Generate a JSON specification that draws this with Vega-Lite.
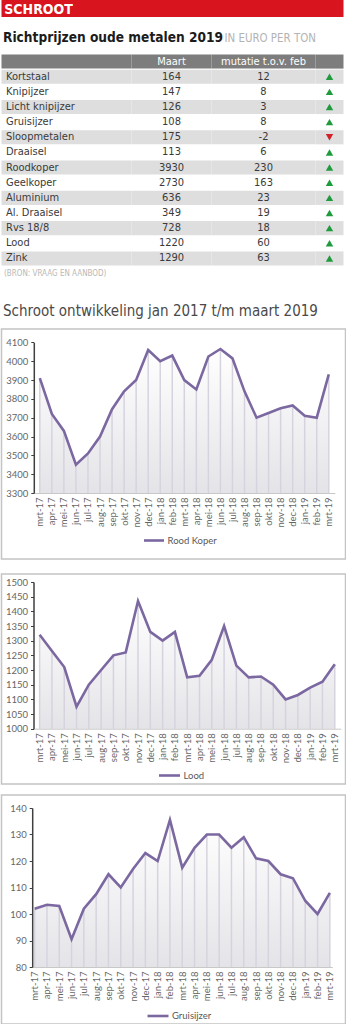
{
  "$schema": "https://vega.github.io/schema/vega-lite/v6.json",
  "padding": {"left": 0.5, "top": 0, "right": 0, "bottom": 0},
  "background": "white",
  "spacing": 0,
  "resolve": {"scale": {"color": "independent", "shape": "independent"}, "legend": {"color": "independent"}},
  "config": {
    "view": {"stroke": null},
    "concat": {"spacing": 0},
    "axis": {"labelFont": "Lato", "grid": false},
    "font": "DejaVu Sans Condensed"
  },
  "datasets": {
    "tabel": [
      {"nr": 0, "soort": " ", "maart": "Maart", "mutatie": "mutatie t.o.v. feb", "trend": ""},
      {"nr": 1, "soort": "Kortstaal", "maart": 164, "mutatie": 12, "trend": "up"},
      {"nr": 2, "soort": "Knipijzer", "maart": 147, "mutatie": 8, "trend": "up"},
      {"nr": 3, "soort": "Licht knipijzer", "maart": 126, "mutatie": 3, "trend": "up"},
      {"nr": 4, "soort": "Gruisijzer", "maart": 108, "mutatie": 8, "trend": "up"},
      {"nr": 5, "soort": "Sloopmetalen", "maart": 175, "mutatie": -2, "trend": "down"},
      {"nr": 6, "soort": "Draaisel", "maart": 113, "mutatie": 6, "trend": "up"},
      {"nr": 7, "soort": "Roodkoper", "maart": 3930, "mutatie": 230, "trend": "up"},
      {"nr": 8, "soort": "Geelkoper", "maart": 2730, "mutatie": 163, "trend": "up"},
      {"nr": 9, "soort": "Aluminium", "maart": 636, "mutatie": 23, "trend": "up"},
      {"nr": 10, "soort": "Al. Draaisel", "maart": 349, "mutatie": 19, "trend": "up"},
      {"nr": 11, "soort": "Rvs 18/8", "maart": 728, "mutatie": 18, "trend": "up"},
      {"nr": 12, "soort": "Lood", "maart": 1220, "mutatie": 60, "trend": "up"},
      {"nr": 13, "soort": "Zink", "maart": 1290, "mutatie": 63, "trend": "up"}
    ],
    "koper": [
      {"maand": "mrt-17", "waarde": 3910}, {"maand": "apr-17", "waarde": 3720}, {"maand": "mei-17", "waarde": 3630},
      {"maand": "jun-17", "waarde": 3450}, {"maand": "jul-17", "waarde": 3510}, {"maand": "aug-17", "waarde": 3600},
      {"maand": "sep-17", "waarde": 3745}, {"maand": "okt-17", "waarde": 3840}, {"maand": "nov-17", "waarde": 3900},
      {"maand": "dec-17", "waarde": 4060}, {"maand": "jan-18", "waarde": 4000}, {"maand": "feb-18", "waarde": 4030},
      {"maand": "mrt-18", "waarde": 3900}, {"maand": "apr-18", "waarde": 3850}, {"maand": "mei-18", "waarde": 4025},
      {"maand": "jun-18", "waarde": 4065}, {"maand": "jul-18", "waarde": 4015}, {"maand": "aug-18", "waarde": 3840},
      {"maand": "sep-18", "waarde": 3700}, {"maand": "okt-18", "waarde": 3725}, {"maand": "nov-18", "waarde": 3750},
      {"maand": "dec-18", "waarde": 3765}, {"maand": "jan-19", "waarde": 3710}, {"maand": "feb-19", "waarde": 3700},
      {"maand": "mrt-19", "waarde": 3930}
    ],
    "lood": [
      {"maand": "mrt-17", "waarde": 1320}, {"maand": "apr-17", "waarde": 1265}, {"maand": "mei-17", "waarde": 1210},
      {"maand": "jun-17", "waarde": 1075}, {"maand": "jul-17", "waarde": 1150}, {"maand": "aug-17", "waarde": 1200},
      {"maand": "sep-17", "waarde": 1250}, {"maand": "okt-17", "waarde": 1260}, {"maand": "nov-17", "waarde": 1435},
      {"maand": "dec-17", "waarde": 1330}, {"maand": "jan-18", "waarde": 1300}, {"maand": "feb-18", "waarde": 1330},
      {"maand": "mrt-18", "waarde": 1175}, {"maand": "apr-18", "waarde": 1180}, {"maand": "mei-18", "waarde": 1235},
      {"maand": "jun-18", "waarde": 1350}, {"maand": "jul-18", "waarde": 1215}, {"maand": "aug-18", "waarde": 1175},
      {"maand": "sep-18", "waarde": 1178}, {"maand": "okt-18", "waarde": 1150}, {"maand": "nov-18", "waarde": 1100},
      {"maand": "dec-18", "waarde": 1115}, {"maand": "jan-19", "waarde": 1140}, {"maand": "feb-19", "waarde": 1160},
      {"maand": "mrt-19", "waarde": 1220}
    ],
    "gruis": [
      {"maand": "mrt-17", "waarde": 102}, {"maand": "apr-17", "waarde": 103.5}, {"maand": "mei-17", "waarde": 103},
      {"maand": "jun-17", "waarde": 90.5}, {"maand": "jul-17", "waarde": 102}, {"maand": "aug-17", "waarde": 107.5},
      {"maand": "sep-17", "waarde": 115}, {"maand": "okt-17", "waarde": 110}, {"maand": "nov-17", "waarde": 117},
      {"maand": "dec-17", "waarde": 123}, {"maand": "jan-18", "waarde": 120}, {"maand": "feb-18", "waarde": 135.5},
      {"maand": "mrt-18", "waarde": 117.5}, {"maand": "apr-18", "waarde": 125}, {"maand": "mei-18", "waarde": 130},
      {"maand": "jun-18", "waarde": 130}, {"maand": "jul-18", "waarde": 125}, {"maand": "aug-18", "waarde": 129},
      {"maand": "sep-18", "waarde": 121}, {"maand": "okt-18", "waarde": 120}, {"maand": "nov-18", "waarde": 115},
      {"maand": "dec-18", "waarde": 113.5}, {"maand": "jan-19", "waarde": 105}, {"maand": "feb-19", "waarde": 100},
      {"maand": "mrt-19", "waarde": 108}
    ]
  },
  "vconcat": [
    {
      "width": 342, "height": 17,
      "data": {"values": [{"kop": "SCHROOT"}]},
      "mark": {"type": "rect", "color": "#d8141e"},
      "encoding": {
        "y": {"field": "kop", "type": "nominal", "scale": {"paddingInner": 0, "paddingOuter": 0},
          "axis": {"orient": "left", "offset": -2.3, "domain": false, "ticks": false, "tickSize": 0, "labelPadding": 0,
            "labelAlign": "left", "labelBaseline": "alphabetic", "labelOffset": 5.5,
            "labelFont": "DejaVu Sans Condensed", "labelFontWeight": "bold", "labelFontSize": 14,
            "labelColor": "#ffffff", "labelLimit": 0, "zindex": 1, "title": null}}
      }
    },
    {
      "hconcat": [
        {
          "width": 222, "height": 37,
          "data": {"values": [{"t": "Richtprijzen oude metalen 2019"}]},
          "mark": {"type": "rect", "opacity": 0},
          "encoding": {
            "y": {"field": "t", "type": "nominal", "scale": {"paddingInner": 0, "paddingOuter": 0},
              "axis": {"orient": "left", "offset": -1, "domain": false, "ticks": false, "tickSize": 0, "labelPadding": 0,
                "labelAlign": "left", "labelBaseline": "alphabetic", "labelOffset": 6.2,
                "labelFont": "DejaVu Sans Condensed", "labelFontWeight": "bold", "labelFontSize": 13.6,
                "labelColor": "#1b1b1b", "labelLimit": 0, "zindex": 1, "title": null}}
          }
        },
        {
          "width": 120, "height": 37,
          "data": {"values": [{"t": "IN EURO PER TON"}]},
          "mark": {"type": "rect", "opacity": 0},
          "encoding": {
            "y": {"field": "t", "type": "nominal", "scale": {"paddingInner": 0, "paddingOuter": 0},
              "axis": {"orient": "left", "offset": -0.5, "domain": false, "ticks": false, "tickSize": 0, "labelPadding": 0,
                "labelAlign": "left", "labelBaseline": "alphabetic", "labelOffset": 6.2,
                "labelFont": "DejaVu Sans Condensed", "labelFontSize": 11.4,
                "labelColor": "#b3b3b3", "labelLimit": 0, "zindex": 1, "title": null}}
          }
        }
      ],
      "spacing": 0
    },
    {
      "data": {"name": "tabel"},
      "hconcat": [
        {
          "width": 130, "height": 212,
          "mark": {"type": "rect"},
          "encoding": {
            "y": {"field": "soort", "type": "nominal",
              "scale": {"domain": [" ", "Kortstaal", "Knipijzer", "Licht knipijzer", "Gruisijzer", "Sloopmetalen", "Draaisel", "Roodkoper", "Geelkoper", "Aluminium", "Al. Draaisel", "Rvs 18/8", "Lood", "Zink"], "paddingInner": 0.07, "paddingOuter": 0.035},
              "axis": {"orient": "left", "offset": -4, "domain": false, "ticks": false, "tickSize": 0, "labelPadding": 0,
                "labelAlign": "left", "labelBaseline": "middle",
                "labelFont": "DejaVu Sans Condensed", "labelFontSize": 11,
                "labelColor": "#3a3a3a", "labelLimit": 0, "zindex": 1, "title": null}},
            "color": {"condition": [{"test": "datum.nr == 0", "value": "#7d7d7d"}, {"test": "datum.nr % 2 == 1", "value": "#dedede"}], "value": "#ffffff"}
          }
        },
        {
          "width": 80, "height": 212,
          "encoding": {
            "y": {"field": "soort", "type": "nominal",
              "scale": {"domain": [" ", "Kortstaal", "Knipijzer", "Licht knipijzer", "Gruisijzer", "Sloopmetalen", "Draaisel", "Roodkoper", "Geelkoper", "Aluminium", "Al. Draaisel", "Rvs 18/8", "Lood", "Zink"], "paddingInner": 0.07, "paddingOuter": 0.035},
              "axis": null}
          },
          "layer": [
            {"mark": {"type": "rect"},
             "encoding": {"color": {"condition": [{"test": "datum.nr == 0", "value": "#7d7d7d"}, {"test": "datum.nr % 2 == 1", "value": "#dedede"}], "value": "#ffffff"}}},
            {"mark": {"type": "text", "font": "DejaVu Sans Condensed", "fontSize": 11, "baseline": "middle"},
             "encoding": {"text": {"field": "maart", "type": "nominal"},
               "color": {"condition": {"test": "datum.nr == 0", "value": "#ffffff"}, "value": "#3a3a3a"}}}
          ]
        },
        {
          "width": 104, "height": 212,
          "encoding": {
            "y": {"field": "soort", "type": "nominal",
              "scale": {"domain": [" ", "Kortstaal", "Knipijzer", "Licht knipijzer", "Gruisijzer", "Sloopmetalen", "Draaisel", "Roodkoper", "Geelkoper", "Aluminium", "Al. Draaisel", "Rvs 18/8", "Lood", "Zink"], "paddingInner": 0.07, "paddingOuter": 0.035},
              "axis": null}
          },
          "layer": [
            {"mark": {"type": "rect"},
             "encoding": {"color": {"condition": [{"test": "datum.nr == 0", "value": "#7d7d7d"}, {"test": "datum.nr % 2 == 1", "value": "#dedede"}], "value": "#ffffff"}}},
            {"mark": {"type": "text", "font": "DejaVu Sans Condensed", "fontSize": 11, "baseline": "middle"},
             "encoding": {"text": {"field": "mutatie", "type": "nominal"},
               "color": {"condition": {"test": "datum.nr == 0", "value": "#ffffff"}, "value": "#3a3a3a"}}}
          ]
        },
        {
          "width": 28, "height": 212,
          "encoding": {
            "y": {"field": "soort", "type": "nominal",
              "scale": {"domain": [" ", "Kortstaal", "Knipijzer", "Licht knipijzer", "Gruisijzer", "Sloopmetalen", "Draaisel", "Roodkoper", "Geelkoper", "Aluminium", "Al. Draaisel", "Rvs 18/8", "Lood", "Zink"], "paddingInner": 0.07, "paddingOuter": 0.035},
              "axis": null}
          },
          "layer": [
            {"mark": {"type": "rect"},
             "encoding": {"color": {"condition": [{"test": "datum.nr == 0", "value": "#7d7d7d"}, {"test": "datum.nr % 2 == 1", "value": "#dedede"}], "value": "#ffffff"}}},
            {"transform": [{"filter": "datum.nr > 0"}],
             "mark": {"type": "point", "filled": true, "size": 55, "opacity": 1},
             "encoding": {
               "shape": {"field": "trend", "type": "nominal", "scale": {"domain": ["up", "down"], "range": ["triangle-up", "triangle-down"]}, "legend": null},
               "color": {"field": "trend", "type": "nominal", "scale": {"domain": ["up", "down"], "range": ["#1e9b3c", "#d3202a"]}, "legend": null}}}
          ],
          "resolve": {"scale": {"color": "independent"}}
        }
      ],
      "spacing": 0
    },
    {
      "width": 342, "height": 16,
      "data": {"values": [{"t": "(BRON: VRAAG EN AANBOD)"}]},
      "mark": {"type": "rect", "opacity": 0},
      "encoding": {
        "y": {"field": "t", "type": "nominal", "scale": {"paddingInner": 0, "paddingOuter": 0},
          "axis": {"orient": "left", "offset": -2, "domain": false, "ticks": false, "tickSize": 0, "labelPadding": 0,
            "labelAlign": "left", "labelBaseline": "middle",
            "labelFont": "DejaVu Sans Condensed", "labelFontSize": 8,
            "labelColor": "#b8b8b8", "labelLimit": 0, "zindex": 1, "title": null}}
      }
    },
    {
      "width": 342, "height": 45.3,
      "data": {"values": [{"t": "Schroot ontwikkeling jan 2017 t/m maart 2019"}]},
      "mark": {"type": "rect", "opacity": 0},
      "encoding": {
        "y": {"field": "t", "type": "nominal", "scale": {"paddingInner": 0, "paddingOuter": 0},
          "axis": {"orient": "left", "offset": -1, "domain": false, "ticks": false, "tickSize": 0, "labelPadding": 0,
            "labelAlign": "left", "labelBaseline": "alphabetic", "labelOffset": 11,
            "labelFont": "DejaVu Sans Condensed", "labelFontSize": 15,
            "labelColor": "#4a4a4a", "labelLimit": 0, "zindex": 1, "title": null}}
      }
    },
    {
      "width": 344, "height": 230,
      "view": {"stroke": "#c4c4c4", "strokeWidth": 1.5},
      "data": {"name": "koper"},
      "encoding": {
        "x": {"field": "maand", "type": "ordinal", "sort": null,
          "scale": {"type": "point", "padding": 0.5, "range": [32.3, 333.3]},
          "axis": {"orient": "bottom", "offset": -66, "labelAngle": -90, "labelFont": "Lato", "labelFontSize": 9.5,
            "labelColor": "#666666", "labelPadding": 4, "labelOverlap": false, "domainColor": "#c8c8c8",
            "domainWidth": 1, "ticks": false, "title": null, "zindex": 1}},
        "y": {"field": "waarde", "type": "quantitative",
          "scale": {"domain": [3300, 4100], "range": [164, 13.4], "zero": false, "nice": false},
          "axis": {"orient": "left", "offset": -32.3, "values": [3300, 3400, 3500, 3600, 3700, 3800, 3900, 4000, 4100],
            "format": "d", "labelFont": "Lato", "labelFontSize": 9.5, "labelColor": "#666666", "labelPadding": 3, "labelOverlap": false,
            "tickSize": 3, "tickColor": "#3f3f3f", "domainColor": "#3f3f3f", "domainWidth": 1.5,
            "title": null, "grid": false, "zindex": 1}}
      },
      "layer": [
        {"mark": {"type": "area", "color": {"gradient": "linear", "x1": 0, "y1": 0, "x2": 0, "y2": 1,
            "stops": [{"offset": 0, "color": "#ffffff"}, {"offset": 1, "color": "#e4e4e8"}]}},
         "encoding": {"y2": {"datum": 3300}}},
        {"mark": {"type": "rule", "color": "#d6d3de", "strokeWidth": 1.5},
         "encoding": {"y2": {"datum": 3300}}},
        {"mark": {"type": "line", "strokeWidth": 2.6},
         "encoding": {"color": {"datum": "Rood Koper", "type": "nominal", "scale": {"range": ["#7c68a1"]},
           "legend": {"orient": "none", "legendX": 141, "legendY": 200, "title": null, "symbolType": "stroke",
             "symbolSize": 400, "symbolStrokeWidth": 2.6, "labelFont": "Lato", "labelFontSize": 9.5,
             "labelColor": "#595959", "labelOffset": 2}}}}
      ]
    },
    {
      "width": 342, "height": 12.5,
      "data": {"values": [{"s": 1}]},
      "mark": {"type": "rect", "opacity": 0}
    },
    {
      "width": 344, "height": 210,
      "view": {"stroke": "#c4c4c4", "strokeWidth": 1.5},
      "data": {"name": "lood"},
      "encoding": {
        "x": {"field": "maand", "type": "ordinal", "sort": null,
          "scale": {"type": "point", "padding": 0.5, "range": [32, 339.4]},
          "axis": {"orient": "bottom", "offset": -55.3, "labelAngle": -90, "labelFont": "Lato", "labelFontSize": 9.5,
            "labelColor": "#666666", "labelPadding": 4, "labelOverlap": false, "domainColor": "#c8c8c8",
            "domainWidth": 1, "ticks": false, "title": null, "zindex": 1}},
        "y": {"field": "waarde", "type": "quantitative",
          "scale": {"domain": [1000, 1500], "range": [154.7, 8], "zero": false, "nice": false},
          "axis": {"orient": "left", "offset": -32, "values": [1000, 1050, 1100, 1150, 1200, 1250, 1300, 1350, 1400, 1450, 1500],
            "format": "d", "labelFont": "Lato", "labelFontSize": 9.5, "labelColor": "#666666", "labelPadding": 3, "labelOverlap": false,
            "tickSize": 3, "tickColor": "#3f3f3f", "domainColor": "#3f3f3f", "domainWidth": 1.5,
            "title": null, "grid": false, "zindex": 1}}
      },
      "layer": [
        {"mark": {"type": "area", "color": {"gradient": "linear", "x1": 0, "y1": 0, "x2": 0, "y2": 1,
            "stops": [{"offset": 0, "color": "#ffffff"}, {"offset": 1, "color": "#e4e4e8"}]}},
         "encoding": {"y2": {"datum": 1000}}},
        {"mark": {"type": "rule", "color": "#d6d3de", "strokeWidth": 1.5},
         "encoding": {"y2": {"datum": 1000}}},
        {"mark": {"type": "line", "strokeWidth": 2.6},
         "encoding": {"color": {"datum": "Lood", "type": "nominal", "scale": {"range": ["#7c68a1"]},
           "legend": {"orient": "none", "legendX": 156, "legendY": 189.5, "title": null, "symbolType": "stroke",
             "symbolSize": 441, "symbolStrokeWidth": 2.6, "labelFont": "Lato", "labelFontSize": 9.5,
             "labelColor": "#595959", "labelOffset": 2}}}}
      ]
    },
    {
      "width": 342, "height": 8.5,
      "data": {"values": [{"s": 1}]},
      "mark": {"type": "rect", "opacity": 0}
    },
    {
      "width": 344, "height": 229,
      "view": {"stroke": "#c4c4c4", "strokeWidth": 1.5},
      "data": {"name": "gruis"},
      "encoding": {
        "x": {"field": "maand", "type": "ordinal", "sort": null,
          "scale": {"type": "point", "padding": 0.2, "range": [30.7, 330.8]},
          "axis": {"orient": "bottom", "offset": -57, "labelAngle": -90, "labelFont": "Lato", "labelFontSize": 9.5,
            "labelColor": "#666666", "labelPadding": 4, "labelOverlap": false, "domainColor": "#c8c8c8",
            "domainWidth": 1, "ticks": false, "title": null, "zindex": 1}},
        "y": {"field": "waarde", "type": "quantitative",
          "scale": {"domain": [80, 140], "range": [172, 13], "zero": false, "nice": false},
          "axis": {"orient": "left", "offset": -30.7, "values": [80, 90, 100, 110, 120, 130, 140],
            "format": "d", "labelFont": "Lato", "labelFontSize": 9.5, "labelColor": "#666666", "labelPadding": 3, "labelOverlap": false,
            "tickSize": 3, "tickColor": "#3f3f3f", "domainColor": "#3f3f3f", "domainWidth": 1.5,
            "title": null, "grid": false, "zindex": 1}}
      },
      "layer": [
        {"mark": {"type": "area", "color": {"gradient": "linear", "x1": 0, "y1": 0, "x2": 0, "y2": 1,
            "stops": [{"offset": 0, "color": "#ffffff"}, {"offset": 1, "color": "#e4e4e8"}]}},
         "encoding": {"y2": {"datum": 80}}},
        {"mark": {"type": "rule", "color": "#d6d3de", "strokeWidth": 1.5},
         "encoding": {"y2": {"datum": 80}}},
        {"mark": {"type": "line", "strokeWidth": 2.6},
         "encoding": {"color": {"datum": "Gruisijzer", "type": "nominal", "scale": {"range": ["#7c68a1"]},
           "legend": {"orient": "none", "legendX": 144.5, "legendY": 209, "title": null, "symbolType": "stroke",
             "symbolSize": 441, "symbolStrokeWidth": 2.6, "labelFont": "Lato", "labelFontSize": 9.5,
             "labelColor": "#595959", "labelOffset": 2}}}}
      ]
    }
  ]
}
